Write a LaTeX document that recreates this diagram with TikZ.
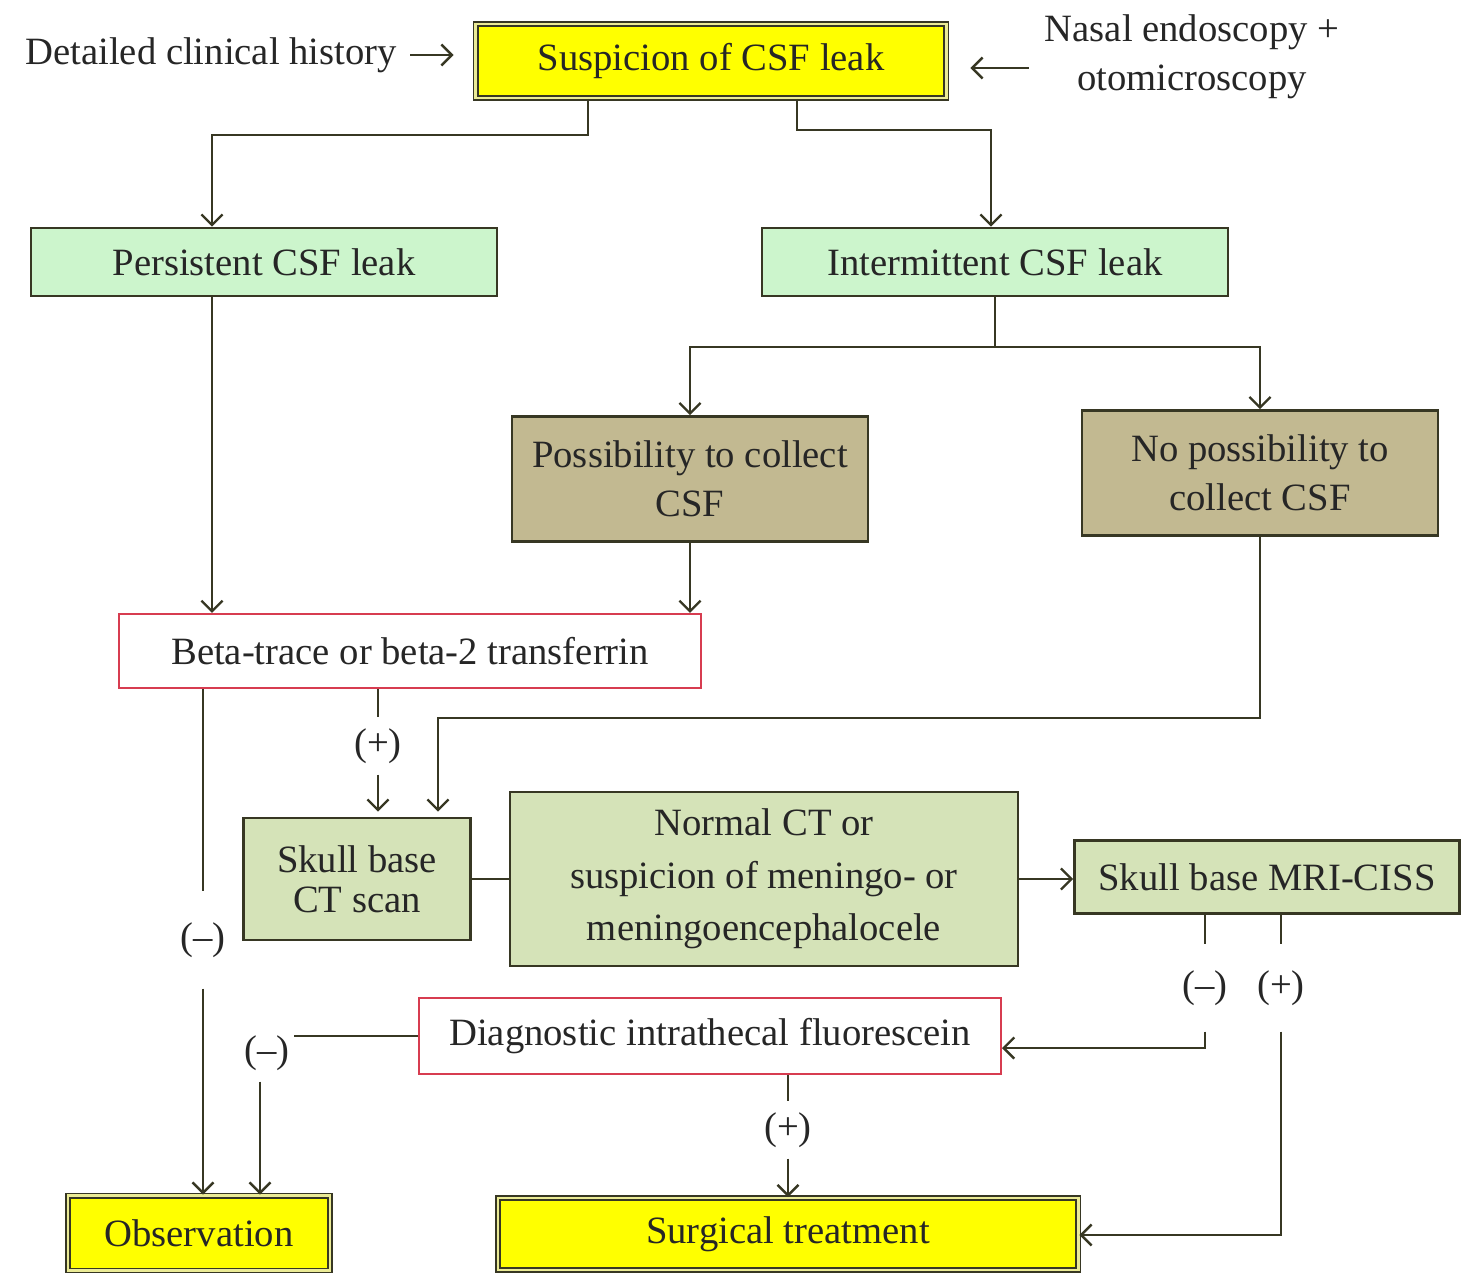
\documentclass[tikz,border=0pt]{standalone}
\usepackage{fontspec}
\setmainfont{Liberation Serif}
\usetikzlibrary{arrows.meta}
\definecolor{boxline}{RGB}{55,55,35}
\definecolor{leakgreen}{RGB}{204,245,204}
\definecolor{collecttan}{RGB}{194,185,145}
\definecolor{scangreen}{RGB}{213,227,184}
\definecolor{testred}{RGB}{215,60,80}
\definecolor{endyellow}{RGB}{255,255,0}
\definecolor{endgap}{RGB}{235,235,150}
\begin{document}
\begin{tikzpicture}[x=0.02cm, y=-0.02cm, font=\fontsize{22}{28}\selectfont,
	every node/.style={align=center, inner sep=0pt, text=black!85},
	box/.style={draw=boxline, line width=1.5pt},
	leak/.style={box, fill=leakgreen, minimum width=9.32cm, minimum height=1.36cm},
	collect/.style={box, fill=collecttan, minimum width=7.12cm, minimum height=2.5cm},
	scan/.style={box, fill=scangreen},
	test/.style={draw=testred, line width=1.2pt, fill=white, minimum width=11.64cm},
	endbox/.style={draw=boxline, fill=endyellow, line width=1.1pt, double=endgap, double distance=1.2pt},
	arr/.style={-{Straight Barb[length=6pt, width=12pt]}},
	sign/.style={inner xsep=2pt, inner ysep=0.2cm}]
	\useasboundingbox (0, 0) rectangle (1461, 1272);
	\tikzset{every path/.style={line width=1.35pt, boxline}}
	% top row
	\node (susp) at (711, 61) [endbox, minimum width=9.42cm, minimum height=1.48cm] {Suspicion of CSF leak};
	\node (hist) at (398, 55) [anchor=east] {Detailed clinical history};
	\node (nasal) at (1192, 57) {Nasal endoscopy +\\otomicroscopy};
	\draw[arr, shorten <=0.24cm, shorten >=0.42cm] (hist.east) -- (susp.west |- hist.east);
	\draw[arr, shorten <=0.3cm, shorten >=0.46cm] (nasal.west |- 0,68) -- (susp.east |- 0,68);
	% persistent / intermittent
	\node (pers) at (264, 262) [leak] {Persistent CSF leak};
	\node (inter) at (995, 262) [leak] {Intermittent CSF leak};
	\draw[arr] (susp.south -| 588,0) -- (588, 135) -| (pers.north -| 212,0);
	\draw[arr] (susp.south -| 797,0) -- (797, 130) -| (inter.north -| 991,0);
	% collecting CSF
	\node (poss) at (690, 479) [collect] {Possibility to collect\\CSF};
	\node (nposs) at (1260, 473) [collect] {No possibility to\\collect CSF};
	\draw[arr] (inter.south) -- (inter.south |- 0,347) -| (poss.north);
	\draw[arr] (inter.south |- 0,347) -| (nposs.north);
	% beta-trace
	\node (beta) at (410, 651) [test, minimum height=1.48cm] {Beta-trace or beta-2 transferrin};
	\draw[arr] (pers.south -| 212,0) -- (beta.north -| 212,0);
	\draw[arr] (poss.south) -- (poss.south |- beta.north);
	% imaging
	\node (ct) at (357, 879) [scan, minimum width=4.54cm, minimum height=2.44cm] {Skull base\\[-5pt]CT scan};
	\node (normal) at (764, 879) [scan, minimum width=10.16cm, minimum height=3.48cm] {Normal CT or\\[2pt]suspicion of meningo- or\\[2pt]meningoencephalocele};
	\node (mri) at (1267, 877) [scan, minimum width=7.7cm, minimum height=1.46cm] {Skull base MRI-CISS};
	\node (plusA) at (378, 746) [sign] {(+)};
	\draw (beta.south -| 378,0) -- (plusA);
	\draw[arr, shorten >=0.1cm] (plusA) -- (ct.north -| 378,0);
	\draw[arr, shorten >=0.1cm] (nposs.south) |- (438, 718) -- (ct.north -| 438,0);
	\draw (ct) -- (normal);
	\draw[arr] (normal.east) -- (mri.west |- normal.east);
	% fluorescein
	\node (fluor) at (710, 1036) [test, minimum height=1.52cm] {Diagnostic intrathecal fluorescein};
	\node (minusB) at (1205, 988) [sign, inner ysep=0.5cm] {(--)};
	\node (plusB) at (1281, 988) [sign, inner ysep=0.5cm] {(+)};
	\draw (mri.south -| minusB) -- (minusB);
	\draw (mri.south -| plusB) -- (plusB);
	\draw[arr] (minusB) |- (fluor.east |- 0,1048);
	% outcomes
	\node (obs) at (199, 1233) [endbox, minimum width=5.24cm, minimum height=1.5cm] {Observation};
	\node (surg) at (788, 1234) [endbox, minimum width=11.62cm, minimum height=1.44cm] {Surgical treatment};
	\node (minusA) at (203, 940) [sign, inner ysep=0.6cm] {(--)};
	\draw (beta.south -| minusA) -- (minusA);
	\draw[arr] (minusA) -- (obs.north -| minusA);
	\node (minusC) at (267, 1053) [sign] {(--)};
	\draw (fluor.west) -- (minusC.east |- fluor.west);
	\draw[arr] (minusC.south -| 260,0) -- (obs.north -| 260,0);
	\node (plusC) at (788, 1130) [sign] {(+)};
	\draw (fluor.south -| plusC) -- (plusC);
	\draw[arr] (plusC) -- (surg.north);
	\draw[arr] (plusB) |- (surg.east |- 0,1235);
\end{tikzpicture}
\end{document}
